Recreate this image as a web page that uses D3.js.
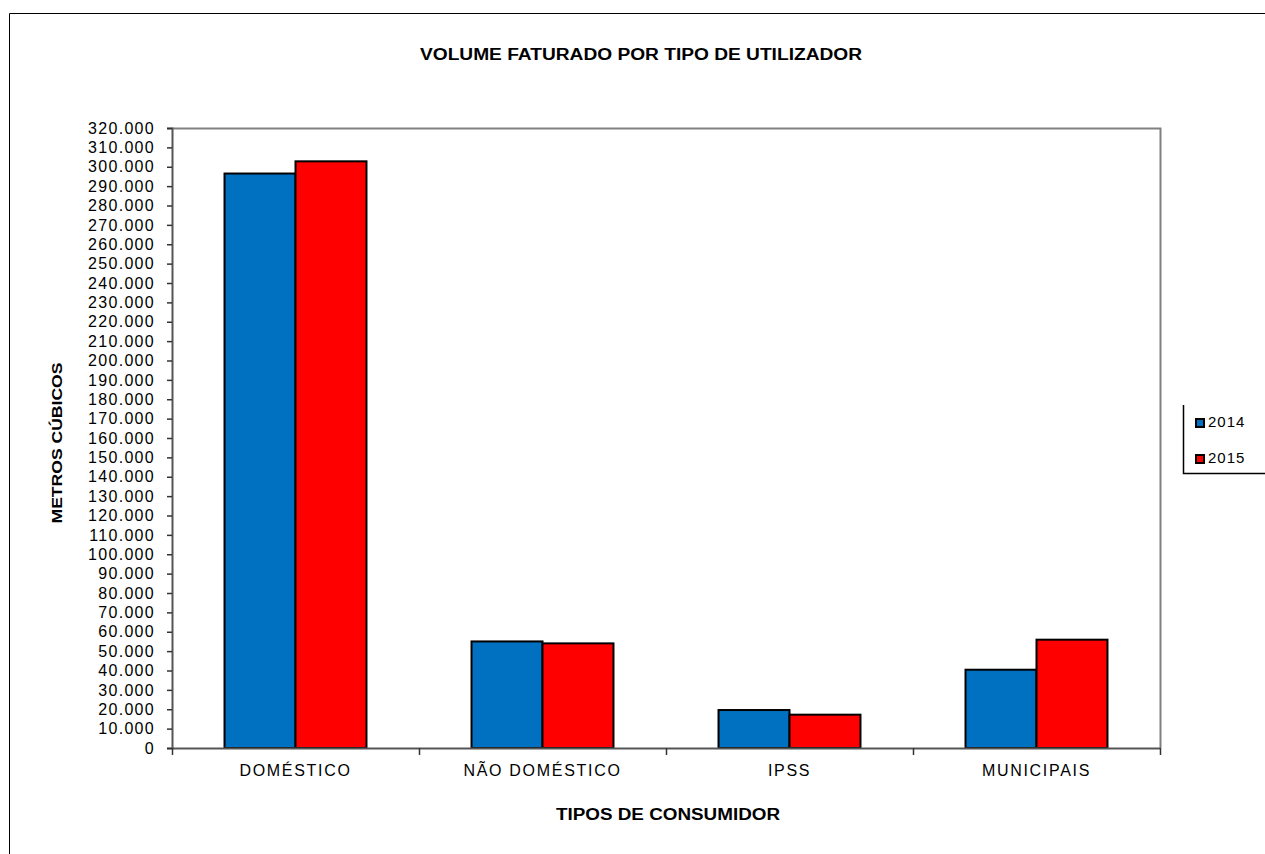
<!DOCTYPE html>
<meta charset="utf-8">
<head>
    <title>Volume faturado por tipo de utilizador</title>
    <script type="text/javascript" src="https://d3js.org/d3.v7.min.js"></script>
    <style>
        body { margin: 0; background: #fff; }
        text { font-family: "Liberation Sans", Arial, sans-serif; fill: #000; }
    </style>
</head>
<body>
    <div id="chart"></div>
    <script>
        // data
        var categories = ["DOMÉSTICO", "NÃO DOMÉSTICO", "IPSS", "MUNICIPAIS"];
        var seriesNames = ["2014", "2015"];
        var values2014 = [296500, 55000, 19600, 40400];
        var values2015 = [302800, 54000, 17200, 55900];
        var yTicks = d3.range(0, 320001, 10000);
        var colors = ["#0070C0", "#FF0000"];

        var width = 1265;
        var height = 854;
        var plot = { left: 172, top: 128, right: 1160, bottom: 748 };

        var svg = d3.select("#chart").append("svg")
                    .attr("width", width)
                    .attr("height", height);

        // outer chart frame (runs off right and bottom)
        svg.append("path")
           .attr("d", "M9.5,854 V13.5 H1265")
           .attr("fill", "none")
           .attr("stroke", "#000")
           .attr("stroke-width", 1);

        var x0 = d3.scaleBand().domain(categories).range([plot.left, plot.right]).padding(0);
        var x1 = d3.scaleBand().domain(seriesNames).range([0, x0.bandwidth()])
                   .paddingInner(0).paddingOuter(0.74);
        var y = d3.scaleLinear().domain([0, 320000]).range([plot.bottom, plot.top]);

        var fmt = function(d) { return d === 0 ? "0" : d3.format(",")(d).replace(/,/g, "."); };

        // plot area border (top + right)
        svg.append("path")
           .attr("d", "M" + plot.left + "," + (plot.top + 0.5) + " H" + (plot.right + 0.5) + " V" + plot.bottom)
           .attr("fill", "none")
           .attr("stroke", "#808080")
           .attr("stroke-width", 2);

        // bars
        var rows = categories.map(function(c, i) {
            return { cat: c, vals: [values2014[i], values2015[i]] };
        });
        svg.append("g").selectAll("g")
           .data(rows)
           .enter().append("g")
           .attr("transform", function(d) { return "translate(" + x0(d.cat) + ",0)"; })
           .selectAll("rect")
           .data(function(d) { return d.vals.map(function(v, j) { return { s: seriesNames[j], v: v, j: j }; }); })
           .enter().append("rect")
           .attr("x", function(d) { return x1(d.s); })
           .attr("y", function(d) { return y(d.v); })
           .attr("width", x1.bandwidth())
           .attr("height", function(d) { return y(0) - y(d.v); })
           .attr("fill", function(d) { return colors[d.j]; })
           .attr("stroke", "#000")
           .attr("stroke-width", 2);

        // y axis
        var yAxis = svg.append("g")
           .attr("transform", "translate(" + plot.left + ",0)")
           .call(d3.axisLeft(y).tickValues(yTicks).tickFormat(fmt).tickSize(5).tickPadding(12));
        yAxis.select(".domain").attr("stroke", "#555").attr("stroke-width", 2);
        yAxis.selectAll(".tick line").attr("stroke", "#333").attr("stroke-width", 1.5);
        yAxis.selectAll("text")
             .attr("font-size", "16px")
             .attr("letter-spacing", "1.3px")
             .style("font-family", "'Liberation Sans', Arial, sans-serif");

        // x axis
        var xAxis = svg.append("g")
           .attr("transform", "translate(0," + plot.bottom + ")")
           .call(d3.axisBottom(x0).tickSize(0).tickPadding(17));
        xAxis.select(".domain").attr("stroke", "#555").attr("stroke-width", 2);
        xAxis.selectAll("text")
             .attr("font-size", "16px")
             .attr("letter-spacing", "1.7px")
             .style("font-family", "'Liberation Sans', Arial, sans-serif");
        // boundary ticks between categories
        var bounds = categories.map(function(c) { return x0(c); }).concat([plot.right]);
        svg.append("g").selectAll("line")
           .data(bounds)
           .enter().append("line")
           .attr("x1", function(d) { return d + 0.5; })
           .attr("x2", function(d) { return d + 0.5; })
           .attr("y1", plot.bottom)
           .attr("y2", plot.bottom + 7)
           .attr("stroke", "#333")
           .attr("stroke-width", 1.5);

        // titles (stretched to the widths seen in the picture)
        svg.append("text")
           .attr("x", 641)
           .attr("y", 60)
           .attr("text-anchor", "middle")
           .attr("font-size", "16px")
           .attr("font-weight", "bold")
           .attr("textLength", 442)
           .attr("lengthAdjust", "spacingAndGlyphs")
           .text("VOLUME FATURADO POR TIPO DE UTILIZADOR");

        svg.append("text")
           .attr("x", 668)
           .attr("y", 820)
           .attr("text-anchor", "middle")
           .attr("font-size", "16px")
           .attr("font-weight", "bold")
           .attr("textLength", 224)
           .attr("lengthAdjust", "spacingAndGlyphs")
           .text("TIPOS DE CONSUMIDOR");

        svg.append("text")
           .attr("transform", "translate(62,443) rotate(-90)")
           .attr("text-anchor", "middle")
           .attr("font-size", "15px")
           .attr("font-weight", "bold")
           .attr("textLength", 161)
           .attr("lengthAdjust", "spacingAndGlyphs")
           .text("METROS CÚBICOS");

        // legend
        var legend = svg.append("g");
        legend.append("path")
              .attr("d", "M1183.5,405 V473.5 H1265")
              .attr("fill", "none")
              .attr("stroke", "#000")
              .attr("stroke-width", 1.5);
        var items = legend.selectAll("g.item")
              .data(seriesNames)
              .enter().append("g")
              .attr("class", "item")
              .attr("transform", function(d, i) { return "translate(1196," + (419 + i * 36) + ")"; });
        items.append("rect")
             .attr("width", 8)
             .attr("height", 8)
             .attr("fill", function(d, i) { return colors[i]; })
             .attr("stroke", "#000")
             .attr("stroke-width", 2);
        items.append("text")
             .attr("x", 12)
             .attr("y", 8)
             .attr("font-size", "15px")
             .attr("letter-spacing", "1px")
             .text(function(d) { return d; });
    </script>
</body>
</html>
